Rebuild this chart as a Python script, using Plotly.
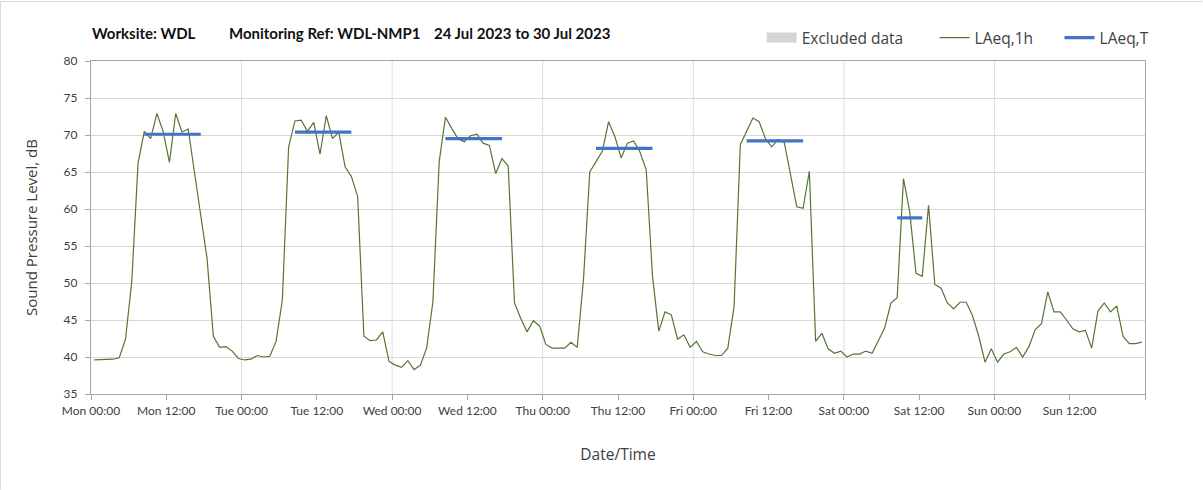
import pandas as pd
import plotly.graph_objects as go

# Hourly LAeq,1h readings (dB), Mon 24 Jul 2023 00:00 .. Sun 30 Jul 2023 23:00
laeq_1h = [
    # Mon
    39.6, 39.6, 39.6, 39.7, 39.9, 42.4, 50.2, 66.2, 70.5, 69.5, 72.9, 70.5,
    66.3, 72.9, 70.4, 70.8, 64.9, 58.9, 53.3, 42.8, 41.3, 41.4, 40.8, 39.8,
    # Tue
    39.6, 39.7, 40.2, 40.0, 40.1, 42.1, 47.7, 68.4, 71.9, 72.0, 70.5, 71.7,
    67.4, 72.6, 69.5, 70.4, 65.7, 64.4, 61.7, 42.8, 42.2, 42.3, 43.4, 39.4,
    # Wed
    38.9, 38.6, 39.5, 38.3, 38.9, 41.2, 47.5, 66.4, 72.4, 70.9, 69.5, 69.1,
    69.9, 70.1, 68.9, 68.6, 64.8, 66.8, 65.8, 47.3, 45.2, 43.4, 44.9, 44.2,
    # Thu
    41.7, 41.2, 41.2, 41.2, 42.0, 41.3, 50.5, 65.0, 66.4, 67.8, 71.8, 69.8,
    66.9, 68.9, 69.2, 67.7, 65.3, 50.9, 43.5, 46.1, 45.7, 42.4, 43.0, 41.3,
    # Fri
    42.1, 40.7, 40.4, 40.2, 40.2, 41.2, 46.8, 68.7, 70.5, 72.3, 71.8, 69.5,
    68.4, 69.4, 69.0, 64.6, 60.3, 60.1, 65.1, 42.1, 43.2, 41.1, 40.5, 40.8,
    # Sat
    40.0, 40.4, 40.4, 40.8, 40.5, 42.2, 43.9, 47.3, 48.0, 64.1, 59.6, 51.3,
    50.9, 60.5, 49.8, 49.3, 47.3, 46.5, 47.4, 47.4, 45.6, 42.8, 39.3, 41.1,
    # Sun
    39.3, 40.4, 40.7, 41.3, 40.0, 41.4, 43.7, 44.5, 48.8, 46.1, 46.1, 45.0,
    43.8, 43.4, 43.6, 41.2, 46.2, 47.3, 46.1, 46.9, 42.8, 41.8, 41.8, 42.0,
]

# Period LAeq,T values (dB) with the first and last hour of each period
period_start = ["2023-07-24 08:00", "2023-07-25 08:00", "2023-07-26 08:00",
                "2023-07-27 08:00", "2023-07-28 08:00", "2023-07-29 08:00"]
period_end = ["2023-07-24 17:00", "2023-07-25 17:00", "2023-07-26 17:00",
              "2023-07-27 17:00", "2023-07-28 17:00", "2023-07-29 12:00"]
laeq_t = [70.1, 70.4, 69.5, 68.2, 69.2, 58.8]

tick_labels = ["Mon 00:00", "Mon 12:00", "Tue 00:00", "Tue 12:00", "Wed 00:00",
               "Wed 12:00", "Thu 00:00", "Thu 12:00", "Fri 00:00", "Fri 12:00",
               "Sat 00:00", "Sat 12:00", "Sun 00:00", "Sun 12:00", ""]

start = pd.Timestamp("2023-07-24 00:00")
end = pd.Timestamp("2023-07-31 00:00")
half_hour = pd.Timedelta(minutes=30)

# each hourly value is plotted at the middle of its hour
hours = pd.date_range(start, periods=len(laeq_1h), freq="h") + half_hour
tick_vals = pd.date_range(start, end, freq="12h")
day_starts = pd.date_range(start + pd.Timedelta(days=1), end - pd.Timedelta(days=1), freq="D")

FONT = "Lato, 'Noto Sans', sans-serif"
FONT_UI = "'Open Sans', 'Noto Sans', sans-serif"
GREY_TXT = "#404040"
AXIS = "#a6a6a6"
GRID = "#d9d9d9"

fig = go.Figure()

fig.add_trace(go.Scatter(
    x=[None], y=[None], mode="lines", name="Excluded data", legend="legend",
    line=dict(color="#d4d4d4", width=10), hoverinfo="skip",
))

fig.add_trace(go.Scatter(
    x=hours, y=laeq_1h, mode="lines", name="LAeq,1h", legend="legend2",
    line=dict(color="#557535", width=1.2),
))

seg_x, seg_y = [], []
for s, e, v in zip(period_start, period_end, laeq_t):
    seg_x += [pd.Timestamp(s) + half_hour, pd.Timestamp(e) + half_hour, None]
    seg_y += [v, v, None]
fig.add_trace(go.Scatter(
    x=seg_x, y=seg_y, mode="lines", name="LAeq,T", legend="legend3",
    line=dict(color="#4472c4", width=3.2),
))

shapes = []
for d in day_starts:
    shapes.append(dict(type="line", xref="x", yref="paper", x0=d, x1=d, y0=0, y1=1,
                       line=dict(color="#dcdcdc", width=1), layer="below"))

# thin frame lines along the left and top edges of the figure
plot_l, plot_r, plot_t, plot_b = 91, 1145.5, 61, 394.3
pw, ph = plot_r - plot_l, plot_b - plot_t
def px(xp):
    return (xp - plot_l) / pw
def py(yp):
    return (plot_b - yp) / ph
shapes.append(dict(type="line", xref="paper", yref="paper", x0=px(0.5), x1=px(0.5),
                   y0=py(1), y1=py(490), line=dict(color="#d9d9d9", width=1)))
shapes.append(dict(type="line", xref="paper", yref="paper", x0=px(0), x1=px(1203),
                   y0=py(1.5), y1=py(1.5), line=dict(color="#d9d9d9", width=1)))

title_parts = [("Worksite: WDL", 90), ("Monitoring Ref: WDL-NMP1", 227),
               ("24 Jul 2023 to 30 Jul 2023", 432)]
annotations = [
    dict(text=f"<b>{t}</b>", xref="paper", yref="paper", x=px(xp), y=py(33),
         xanchor="left", yanchor="middle", showarrow=False,
         font=dict(family=FONT, size=15, color="#111111"))
    for t, xp in title_parts
]

def legend_at(x_left):
    return dict(orientation="h", x=px(x_left), y=py(38), xanchor="left", yanchor="middle",
                font=dict(family=FONT_UI, size=15.5, color=GREY_TXT),
                bgcolor="rgba(0,0,0,0)", itemwidth=30)

fig.update_layout(
    width=1203, height=490,
    margin=dict(l=plot_l, r=1203 - plot_r, t=plot_t, b=490 - plot_b),
    paper_bgcolor="white", plot_bgcolor="white",
    font=dict(family=FONT, color=GREY_TXT, size=12),
    showlegend=True,
    legend=legend_at(762),
    legend2=legend_at(935),
    legend3=legend_at(1060),
    shapes=shapes,
    annotations=annotations,
    xaxis=dict(
        type="date", range=[start, end],
        tickvals=tick_vals, ticktext=tick_labels,
        showgrid=False, zeroline=False,
        showline=True, linecolor=AXIS, linewidth=1.3, mirror=True,
        ticks="outside", ticklen=5, tickcolor=AXIS,
        tickfont=dict(family=FONT, size=12, color=GREY_TXT),
        title=dict(text="Date/Time", standoff=32,
                   font=dict(family=FONT_UI, size=15.5, color=GREY_TXT)),
    ),
    yaxis=dict(
        range=[35, 80], dtick=5, tick0=35,
        showgrid=True, gridcolor=GRID, gridwidth=1.4, zeroline=False,
        showline=True, linecolor=AXIS, linewidth=1.3, mirror=True,
        ticks="outside", ticklen=5, tickcolor=AXIS, ticklabelstandoff=5,
        tickfont=dict(family=FONT, size=12, color=GREY_TXT),
        title=dict(text="Sound Pressure Level, dB", standoff=22,
                   font=dict(family=FONT_UI, size=15, color=GREY_TXT)),
    ),
)

fig.write_html("out.html")
